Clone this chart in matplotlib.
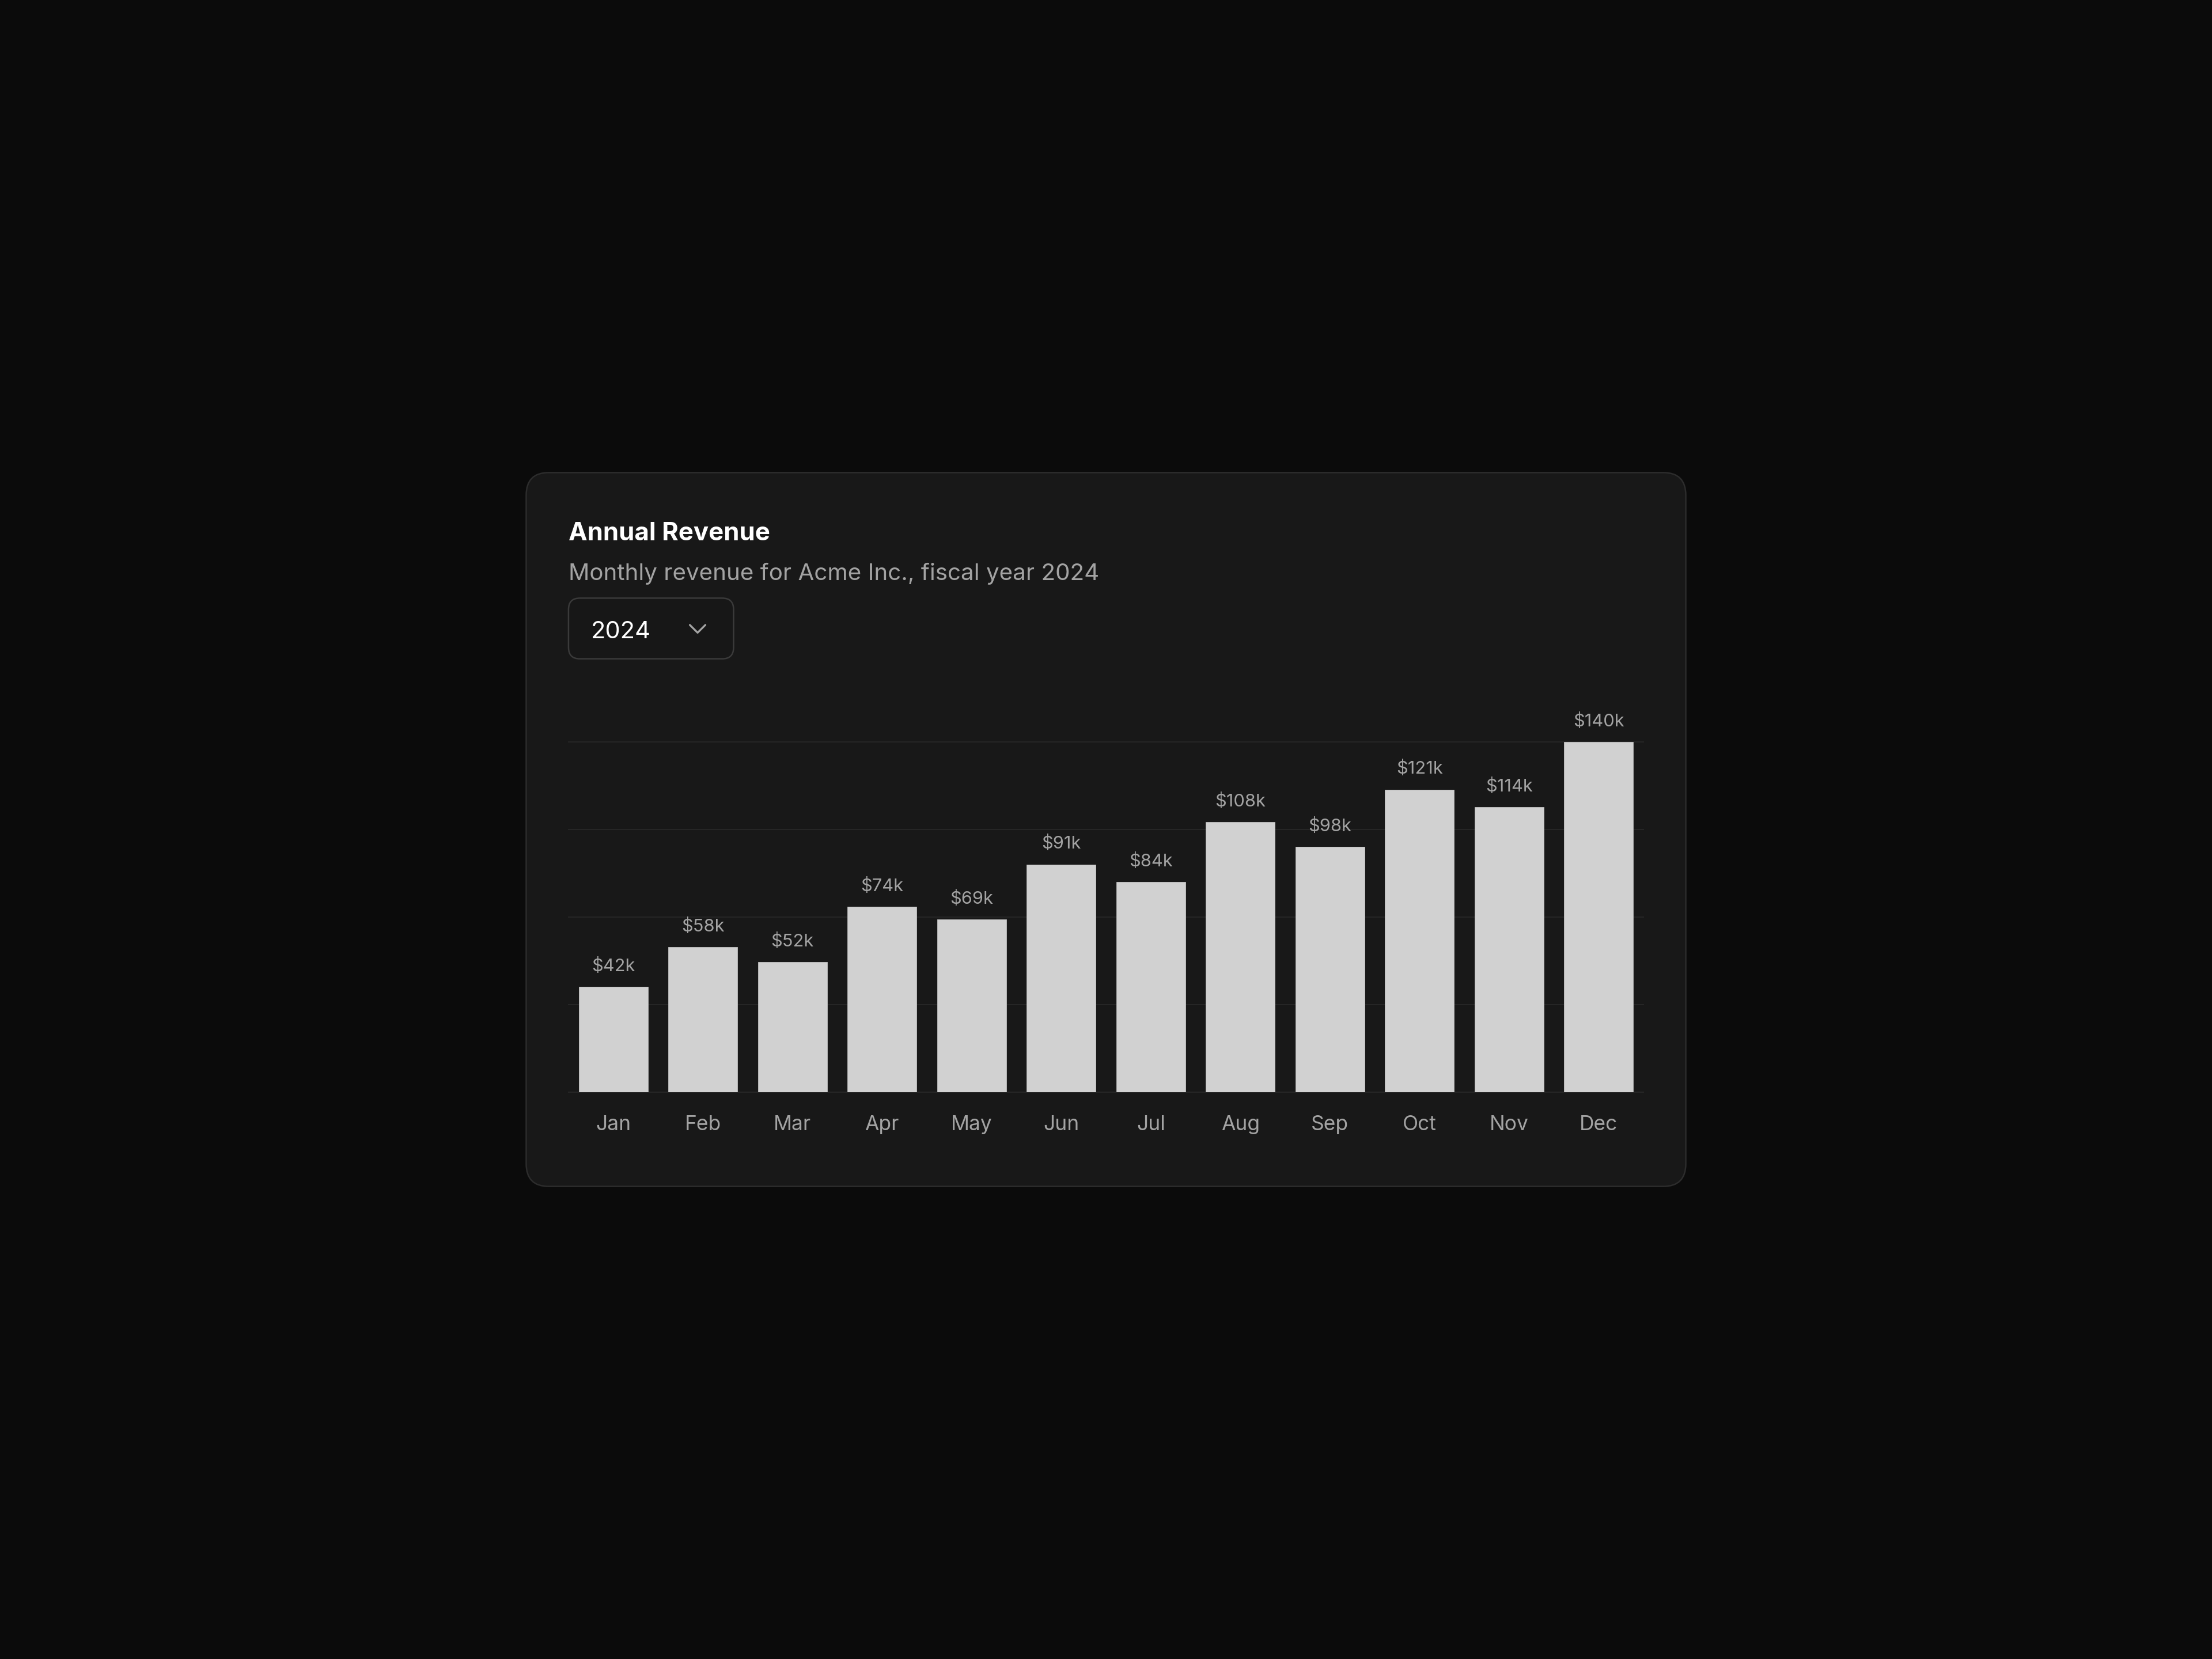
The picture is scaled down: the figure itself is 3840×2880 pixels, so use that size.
import matplotlib
matplotlib.use("Agg")
import matplotlib.pyplot as plt
from matplotlib.patches import FancyBboxPatch
from matplotlib.lines import Line2D

plt.rcParams['font.family'] = ['Inter', 'DejaVu Sans']

months = ['Jan', 'Feb', 'Mar', 'Apr', 'May', 'Jun',
          'Jul', 'Aug', 'Sep', 'Oct', 'Nov', 'Dec']
revenue_k = [42, 58, 52, 74, 69, 91, 84, 108, 98, 121, 114, 140]
grid_ticks = [0, 35, 70, 105, 140]

title = 'Annual Revenue'
subtitle = 'Monthly revenue for Acme Inc., fiscal year 2024'
year_label = '2024'

page_bg = '#0b0b0b'
card_bg = '#181818'
card_edge = '#2c2c2c'
bar_color = '#d1d1d1'
muted = '#a3a3a3'

W, H = 1568, 1176  # layout units (scaled up to 3840x2880 on save)

fig = plt.figure(figsize=(12.8, 9.6), dpi=300, facecolor=page_bg)

# background layer for the card / dropdown
ui = fig.add_axes([0, 0, 1, 1])
ui.set_xlim(0, W)
ui.set_ylim(H, 0)
ui.axis('off')
ui.set_facecolor(page_bg)

card = FancyBboxPatch((373, 335), 1195 - 373, 841 - 335,
                      boxstyle='round,pad=0,rounding_size=16',
                      facecolor=card_bg, edgecolor=card_edge, linewidth=0.6)
ui.add_patch(card)

dropdown = FancyBboxPatch((403, 424), 520 - 403, 467 - 424,
                          boxstyle='round,pad=0,rounding_size=8',
                          facecolor='#171717', edgecolor='#3a3a3a', linewidth=0.6)
ui.add_patch(dropdown)
ui.add_line(Line2D([489, 494.5, 500], [443, 448.5, 443], color=muted,
                   linewidth=0.8, solid_capstyle='round', solid_joinstyle='round'))

ui.text(403, 383, title, color='white', fontsize=10.5, fontweight='bold',
        va='baseline', ha='left')
ui.text(403, 411, subtitle, color=muted, fontsize=9.7, va='baseline', ha='left')
ui.text(419, 452.5, year_label, color='white', fontsize=10.0, va='baseline', ha='left')

# chart
left, right, base, top = 403, 1165, 774, 526
ax = fig.add_axes([left / W, 1 - base / H, (right - left) / W, (base - top) / H])
ax.set_facecolor('none')
ax.set_xlim(-0.5, len(months) - 0.5)
ax.set_ylim(0, max(grid_ticks))

for g in grid_ticks:
    ax.axhline(g, color='#262626', linewidth=0.5, zorder=0, clip_on=False)

x = list(range(len(months)))
bars = ax.bar(x, revenue_k, width=0.772, color=bar_color, zorder=2,
              edgecolor='#bcbcbc', linewidth=0.2)

for xi, v in zip(x, revenue_k):
    ax.annotate(f'${v}k', (xi, v), xytext=(0, 8.6), textcoords='offset points',
                ha='center', va='center', fontsize=7.4, color=muted, clip_on=False)

ax.set_xticks(x)
ax.set_xticklabels(months, fontsize=8.5, color=muted)
ax.tick_params(axis='x', length=0, pad=9.6)
ax.set_yticks([])
for s in ax.spines.values():
    s.set_visible(False)

fig.savefig('out.png', dpi=300, facecolor=page_bg)
